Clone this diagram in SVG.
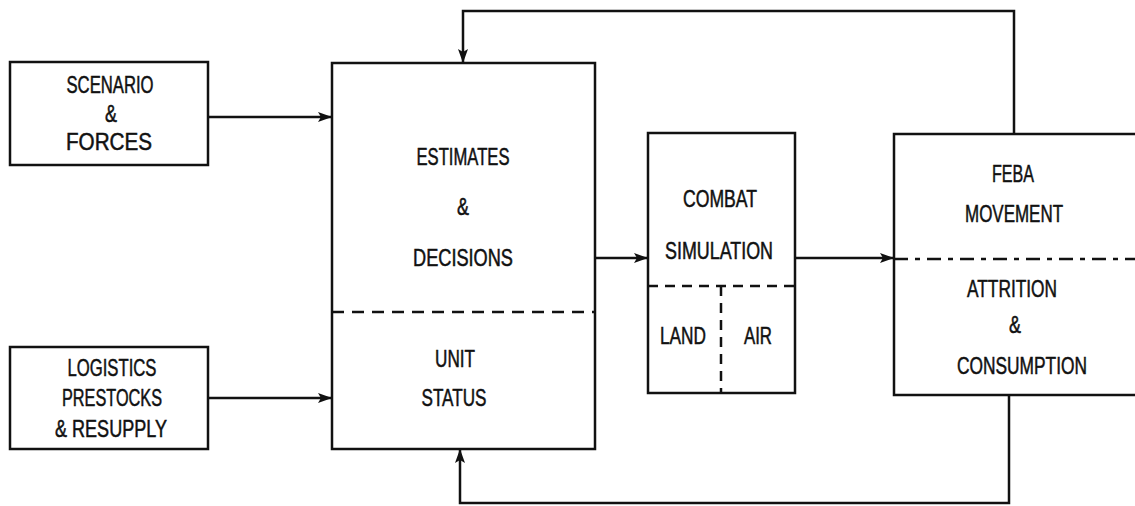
<svg xmlns="http://www.w3.org/2000/svg" width="1135" height="506" viewBox="0 0 1135 506">
<defs>
<style>
.box{fill:none;stroke:#111;stroke-width:2.5}
.dash{fill:none;stroke:#111;stroke-width:2.5;stroke-dasharray:12 8}
.dashs{fill:none;stroke:#111;stroke-width:2.5;stroke-dasharray:10 7}
.dashdot{fill:none;stroke:#111;stroke-width:2.5;stroke-dasharray:14 7 5 7}
.conn{fill:none;stroke:#111;stroke-width:2.5}
text{font-family:"Liberation Sans",Arial,sans-serif;font-size:23px;fill:#111;stroke:#111;stroke-width:0.5;text-anchor:middle}
</style>
<marker id="arr" markerWidth="14" markerHeight="10" refX="13" refY="5" orient="auto" markerUnits="userSpaceOnUse">
<path d="M0,0 L14,5 L0,10 L3,5 Z" fill="#111"/>
</marker>
</defs>
<rect width="1135" height="506" fill="#fff"/>

<g id="scenario">
<rect class="box" x="10" y="62" width="198" height="103"/>
<text x="110" y="93" textLength="87" lengthAdjust="spacingAndGlyphs">SCENARIO</text>
<text x="111" y="122" textLength="12" lengthAdjust="spacingAndGlyphs">&amp;</text>
<text x="109" y="150" textLength="86" lengthAdjust="spacingAndGlyphs">FORCES</text>
</g>

<g id="logistics">
<rect class="box" x="10" y="347" width="198" height="102"/>
<text x="112" y="376" textLength="89" lengthAdjust="spacingAndGlyphs">LOGISTICS</text>
<text x="112" y="406" textLength="100" lengthAdjust="spacingAndGlyphs">PRESTOCKS</text>
<text x="111" y="437" textLength="112" lengthAdjust="spacingAndGlyphs">&amp; RESUPPLY</text>
</g>

<g id="estimates">
<rect class="box" x="332" y="63" width="263" height="386"/>
<line class="dash" x1="332" y1="312" x2="595" y2="312"/>
<text x="463" y="165" textLength="93" lengthAdjust="spacingAndGlyphs">ESTIMATES</text>
<text x="463" y="215" textLength="12" lengthAdjust="spacingAndGlyphs">&amp;</text>
<text x="463" y="266" textLength="100" lengthAdjust="spacingAndGlyphs">DECISIONS</text>
<text x="455" y="367" textLength="40" lengthAdjust="spacingAndGlyphs">UNIT</text>
<text x="454" y="406" textLength="65" lengthAdjust="spacingAndGlyphs">STATUS</text>
</g>

<g id="combat">
<rect class="box" x="648" y="133" width="147" height="260"/>
<line class="dashs" x1="648" y1="286" x2="795" y2="286"/>
<line class="dashs" x1="721" y1="286" x2="721" y2="393"/>
<text x="720" y="207" textLength="74" lengthAdjust="spacingAndGlyphs">COMBAT</text>
<text x="719" y="259" textLength="108" lengthAdjust="spacingAndGlyphs">SIMULATION</text>
<text x="683" y="344" textLength="46" lengthAdjust="spacingAndGlyphs">LAND</text>
<text x="758" y="344" textLength="28" lengthAdjust="spacingAndGlyphs">AIR</text>
</g>

<g id="feba">
<path class="box" d="M1140,134 H894 V395 H1140"/>
<line class="dashdot" x1="894" y1="259" x2="1135" y2="259"/>
<text x="1013" y="182" textLength="42" lengthAdjust="spacingAndGlyphs">FEBA</text>
<text x="1014" y="222" textLength="98" lengthAdjust="spacingAndGlyphs">MOVEMENT</text>
<text x="1012" y="297" textLength="90" lengthAdjust="spacingAndGlyphs">ATTRITION</text>
<text x="1015" y="333" textLength="12" lengthAdjust="spacingAndGlyphs">&amp;</text>
<text x="1022" y="374" textLength="130" lengthAdjust="spacingAndGlyphs">CONSUMPTION</text>
</g>

<g id="connectors">
<path class="conn" d="M208,117 H331" marker-end="url(#arr)"/>
<path class="conn" d="M208,398 H331" marker-end="url(#arr)"/>
<path class="conn" d="M595,258 H647" marker-end="url(#arr)"/>
<path class="conn" d="M795,258 H893" marker-end="url(#arr)"/>
<path class="conn" d="M1014,134 V11 H463 V62" marker-end="url(#arr)"/>
<path class="conn" d="M1009,395 V503 H460 V450" marker-end="url(#arr)"/>
</g>
</svg>
